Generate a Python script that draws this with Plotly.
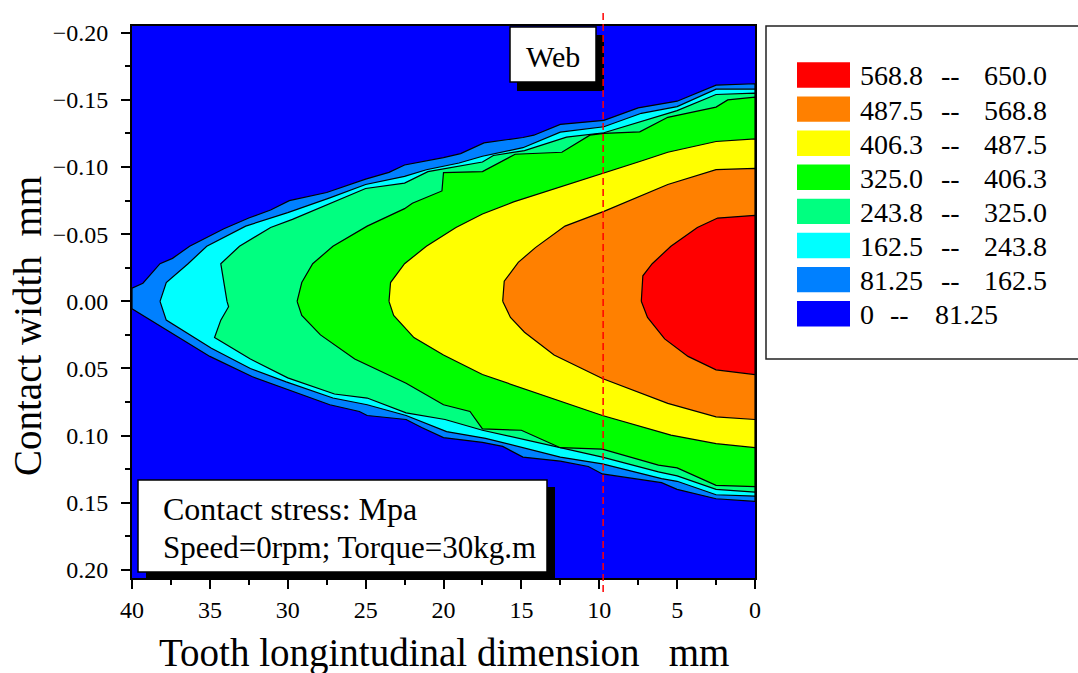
import plotly.graph_objects as go

# ---------------- data ----------------
# contour level boundaries: (tooth longitudinal position mm, contact width mm)
lvl81_top = [(40.0, -0.0098), (39.3, -0.0135), (38.2, -0.028), (37.4, -0.032), (36.3, -0.041),
             (34.1, -0.054), (32.5, -0.062), (31.1, -0.068), (29.9, -0.075), (27.5, -0.081),
             (25.0, -0.091), (23.5, -0.096), (22.5, -0.1015), (20.0, -0.107), (18.9, -0.110),
             (17.4, -0.118), (14.9, -0.122), (14.2, -0.1237), (12.5, -0.1317), (9.7, -0.1347),
             (7.5, -0.144), (5.0, -0.149), (2.5, -0.161), (0.0, -0.162)]
lvl81_bot = [(40.0, 0.0056), (35.0, 0.041), (32.3, 0.056), (27.3, 0.077), (25.4, 0.082),
             (24.9, 0.085), (22.4, 0.088), (21.4, 0.094), (20.0, 0.1015), (17.5, 0.105),
             (16.2, 0.108), (14.9, 0.116), (12.5, 0.119), (10.7, 0.123), (9.8, 0.1285),
             (6.0, 0.135), (5.0, 0.140), (2.5, 0.147), (0.0, 0.149)]

lvl162_top = [(38.2, 0.0), (37.8, -0.014), (36.4, -0.028), (35.2, -0.041), (32.7, -0.056),
              (30.0, -0.066), (27.3, -0.077), (25.0, -0.087), (22.5, -0.093), (21.1, -0.098),
              (19.0, -0.103), (17.5, -0.108), (14.9, -0.1144), (12.5, -0.126), (9.7, -0.130),
              (7.3, -0.140), (5.0, -0.145), (2.5, -0.158), (0.0, -0.158)]
lvl162_bot = [(37.8, 0.014), (34.9, 0.035), (32.4, 0.050), (30.1, 0.060), (27.1, 0.072),
              (24.9, 0.077), (22.4, 0.085), (19.8, 0.097), (17.3, 0.102), (15.0, 0.109),
              (12.5, 0.116), (9.8, 0.121), (6.0, 0.132), (5.0, 0.134), (2.5, 0.144), (0.0, 0.145)]

lvl244_top = [(33.9, 0.0), (34.1, -0.014), (34.3, -0.028), (33.1, -0.041), (31.1, -0.055),
              (29.7, -0.061), (27.4, -0.072), (25.0, -0.084), (22.5, -0.088), (21.0, -0.0966),
              (17.5, -0.1037), (16.8, -0.1086), (14.8, -0.1122), (12.1, -0.1223), (9.7, -0.1255),
              (7.3, -0.1337), (5.0, -0.142), (2.5, -0.154), (0.0, -0.155)]
lvl244_bot = [(33.8, 0.004), (34.3, 0.014), (34.7, 0.027), (32.4, 0.043), (30.0, 0.057),
              (27.0, 0.069), (24.9, 0.072), (22.4, 0.083), (19.9, 0.088), (17.5, 0.096),
              (15.0, 0.103), (12.5, 0.109), (9.8, 0.116), (6.2, 0.127), (5.0, 0.130),
              (2.5, 0.140), (0.0, 0.142)]

lvl325_top = [(29.4, 0.0), (29.1, -0.014), (28.4, -0.028), (27.1, -0.041), (24.9, -0.056),
              (22.5, -0.069), (22.0, -0.073), (20.1, -0.0822), (20.0, -0.0959), (17.5, -0.0966),
              (15.4, -0.1095), (12.4, -0.111), (10.6, -0.1237), (9.7, -0.125), (7.4, -0.1262),
              (5.6, -0.137), (2.5, -0.1446), (1.75, -0.150), (0.0, -0.152)]
lvl325_bot = [(29.1, 0.0105), (27.9, 0.025), (25.7, 0.043), (22.4, 0.061), (20.0, 0.077),
              (18.3, 0.082), (17.5, 0.095), (15.0, 0.096), (12.5, 0.109), (9.8, 0.110),
              (6.2, 0.122), (5.0, 0.124), (2.5, 0.137), (0.0, 0.138)]

lvl406_top = [(23.5, 0.0), (23.4, -0.014), (22.5, -0.028), (21.1, -0.041), (19.2, -0.055),
              (17.5, -0.065), (15.5, -0.074), (12.5, -0.085), (9.7, -0.0958), (7.3, -0.1045),
              (5.6, -0.111), (2.5, -0.119), (0.0, -0.121)]
lvl406_bot = [(23.2, 0.0105), (21.9, 0.027), (20.0, 0.040), (17.5, 0.0545), (14.4, 0.067),
              (9.8, 0.085), (5.4, 0.0996), (2.5, 0.106), (0.0, 0.109)]

lvl488_top = [(16.2, 0.0), (16.1, -0.015), (15.2, -0.029), (14.1, -0.040), (12.2, -0.056),
              (9.7, -0.067), (5.6, -0.087), (2.5, -0.098), (0.0, -0.099)]
lvl488_bot = [(15.7, 0.012), (14.8, 0.023), (12.9, 0.040), (9.8, 0.0575), (5.6, 0.076),
              (2.5, 0.086), (0.0, 0.088)]

lvl569_top = [(7.3, 0.0), (7.2, -0.019), (6.6, -0.028), (5.4, -0.041), (3.7, -0.055),
              (2.4, -0.062), (0.0, -0.064)]
lvl569_bot = [(6.9, 0.012), (5.8, 0.028), (4.3, 0.041), (2.5, 0.051), (0.0, 0.0545)]

level_colors = ["#0080FF", "#00FFFF", "#00FF80", "#00FF00", "#FFFF00", "#FF8000", "#FF0000"]
base_color = "#0000FF"

legend_low = ["568.8", "487.5", "406.3", "325.0", "243.8", "162.5", "81.25", "0"]
legend_high = ["650.0", "568.8", "487.5", "406.3", "325.0", "243.8", "162.5", "81.25"]
legend_colors = ["#FF0000", "#FF8000", "#FFFF00", "#00FF00", "#00FF80", "#00FFFF", "#0080FF", "#0000FF"]

web_line_x = 9.75
x_ticks = [40, 35, 30, 25, 20, 15, 10, 5, 0]
y_ticks = [-0.20, -0.15, -0.10, -0.05, 0.00, 0.05, 0.10, 0.15, 0.20]

# ---------------- figure ----------------
FONT = "Liberation Serif"
W, H = 1078, 673
L, R, T, B = 132, 755, 26, 578   # plot area in pixels


def PX(px):
    return (px - L) / (R - L)


def PY(py):
    return (B - py) / (B - T)


fig = go.Figure()

levels = [(lvl81_top, lvl81_bot), (lvl162_top, lvl162_bot), (lvl244_top, lvl244_bot),
          (lvl325_top, lvl325_bot), (lvl406_top, lvl406_bot), (lvl488_top, lvl488_bot),
          (lvl569_top, lvl569_bot)]

for (top, bot), col in zip(levels, level_colors):
    pts = top + bot[::-1]
    pts = pts + [pts[0]]
    fig.add_trace(go.Scatter(
        x=[p[0] for p in pts], y=[p[1] for p in pts],
        mode="lines", fill="toself", fillcolor=col,
        line=dict(color="black", width=1.2),
        hoverinfo="skip", showlegend=False))

axis_common = dict(showline=True, linecolor="black", linewidth=2, mirror=True,
                   showgrid=False, zeroline=False, ticks="outside", ticklen=9,
                   tickwidth=2, tickcolor="black",
                   tickfont=dict(family=FONT, size=24, color="black"))

fig.update_xaxes(range=[40, 0], tickvals=x_ticks, ticktext=[str(v) for v in x_ticks],
                 minor=dict(ticks="outside", ticklen=5, tickwidth=2, tickcolor="black",
                            dtick=2.5, tick0=0),
                 **axis_common)
fig.update_yaxes(range=[0.206, -0.205], tickvals=y_ticks, tickformat=".2f",
                 minor=dict(ticks="outside", ticklen=5, tickwidth=2, tickcolor="black",
                            dtick=0.025, tick0=0),
                 ticklabelstandoff=8,
                 **axis_common)

shapes = []
annotations = []


def rect(x0, y0, x1, y1, fill, line_color=None, lw=0):
    shapes.append(dict(type="rect", xref="paper", yref="paper",
                       x0=PX(x0), x1=PX(x1), y0=PY(y1), y1=PY(y0),
                       fillcolor=fill,
                       line=dict(color=line_color or fill, width=lw), layer="above"))


def text(px, py, s, size, anchor="left"):
    annotations.append(dict(xref="paper", yref="paper", x=PX(px), y=PY(py), text=s,
                            showarrow=False, xanchor=anchor, yanchor="middle",
                            font=dict(family=FONT, size=size, color="black")))


# "Web" label box with shadow
rect(517, 35, 604, 91, "black")
rect(510, 27, 596, 82, "white", "black", 1.5)
text(553, 56, "Web", 30, "center")

# info box with shadow
rect(146, 487, 555, 580, "black")
rect(138, 480, 547, 572, "white", "black", 1.5)
text(161, 509, "Contact stress: Mpa", 32)
text(161, 547, "Speed=0rpm; Torque=30kg.m", 31)

# web position dashed line
shapes.append(dict(type="line", xref="x", yref="paper", x0=web_line_x, x1=web_line_x,
                   y0=PY(592), y1=PY(10), line=dict(color="red", width=1.5, dash="7px,4px"),
                   layer="above"))

# legend box
rect(766, 26, 1095, 359, "white", "#222222", 1.5)
for i, (lo, hi, col) in enumerate(zip(legend_low, legend_high, legend_colors)):
    cy = 75 + 34.1 * i
    rect(797, cy - 12.7, 850, cy + 12.7, col)
    text(858, cy + 1, lo, 28)
    if lo == "0":
        text(888, cy + 1, "--", 28)
        text(933, cy + 1, hi, 28)
    else:
        text(939, cy + 1, "--", 28)
        text(982, cy + 1, hi, 28)

# axis titles
text(444, 653, "Tooth longintudinal dimension\u00a0\u00a0\u00a0mm", 39, "center")
annotations.append(dict(xref="paper", yref="paper", x=PX(27), y=PY(326),
                        text="Contact width\u00a0\u00a0mm", textangle=-90, showarrow=False,
                        xanchor="center", yanchor="middle",
                        font=dict(family=FONT, size=39, color="black")))

fig.update_layout(width=W, height=H, autosize=False,
                  margin=dict(l=L, r=W - R, t=T, b=H - B, pad=0),
                  paper_bgcolor="white", plot_bgcolor=base_color,
                  shapes=shapes, annotations=annotations, showlegend=False)

fig.write_html("out.html", config={"displayModeBar": False},
               post_script="document.body.style.margin='0';document.body.style.overflow='hidden';")
